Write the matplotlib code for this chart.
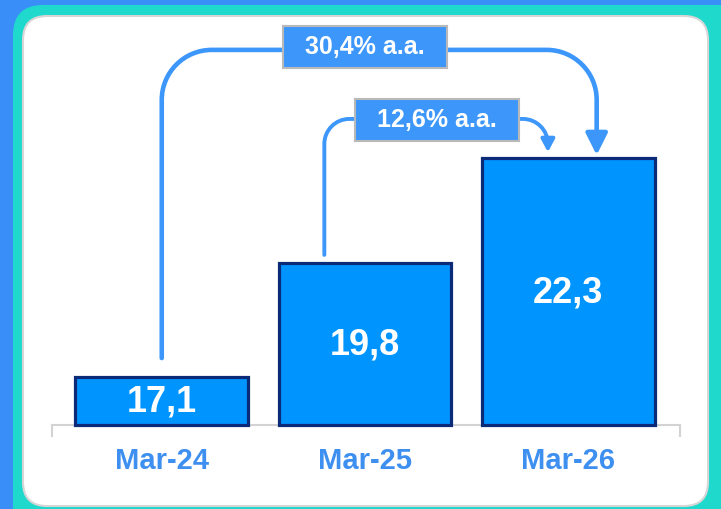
import numpy as np
import matplotlib
matplotlib.use("Agg")
import matplotlib.pyplot as plt
from matplotlib.patches import FancyBboxPatch, FancyArrowPatch, Rectangle
from matplotlib.path import Path
from matplotlib.transforms import IdentityTransform

# data
categories = ["Mar-24", "Mar-25", "Mar-26"]
values = [17.1, 19.8, 22.3]
value_labels = ["17,1", "19,8", "22,3"]
growth_labels = ["30,4% a.a.", "12,6% a.a."]

plt.rcParams['font.family'] = ['Liberation Sans', 'DejaVu Sans']

BAR = "#0094ff"
EDGE = "#0b2a78"
ARROW = "#3d97fb"
TICK = "#3d8ff0"

fig = plt.figure(figsize=(7.21, 5.09), dpi=100)
fig.patch.set_facecolor("#3a8ef7")

# background frame (pixel coordinates)
bg = fig.add_axes([0, 0, 1, 1], zorder=0)
bg.set_xlim(0, 721)
bg.set_ylim(509, 0)
bg.axis("off")
bg.add_patch(FancyBboxPatch((13, 5), 740, 540, boxstyle="round,pad=0,rounding_size=30",
                            fc="#1fd9cc", ec="none"))
bg.add_patch(FancyBboxPatch((23, 16), 685, 490, boxstyle="round,pad=0,rounding_size=24",
                            fc="white", ec="#d6d6d6", lw=1.5))

ybase = 15.96
ax = fig.add_axes([52 / 721, 84 / 509, 628 / 721, 405 / 509], zorder=1)
ax.patch.set_alpha(0)
x = np.arange(len(categories))
ax.set_xlim(-0.54, 2.55)
ax.set_ylim(ybase, 25.58)

ax.bar(x, np.array(values) - ybase, bottom=ybase, width=0.85, color=BAR,
       edgecolor=EDGE, linewidth=2.3, zorder=3, clip_on=False)

for xi, v, lab in zip(x, values, value_labels):
    ax.text(xi, (v + ybase) / 2 - 0.03, lab, ha="center", va="center", color="white",
            fontsize=26, fontweight="bold", zorder=4)

ax.set_xticks(x, categories)
ax.tick_params(axis="x", length=0, pad=16, labelsize=21, labelcolor=TICK)
for t in ax.get_xticklabels():
    t.set_fontweight("bold")
ax.set_yticks([])
for s in ["top", "left", "right"]:
    ax.spines[s].set_visible(False)
ax.spines["bottom"].set_color("#d3d3d3")
ax.spines["bottom"].set_linewidth(1.5)
for xe in ax.get_xlim():
    ax.plot([xe, xe], [ybase, ybase - 0.25], color="#d3d3d3", lw=1.5, clip_on=False)


def elbow(xa, ya, xb, yb, ytop, r, lw, hl, hw):
    T = ax.transData
    (pxa, pya), (pxb, pyb), (_, pyt) = T.transform([(xa, ya), (xb, yb), (xa, ytop)])
    k = 0.5523 * r
    verts = [(pxa, pya), (pxa, pyt - r),
             (pxa, pyt - r + k), (pxa + r - k, pyt), (pxa + r, pyt),
             (pxb - r, pyt),
             (pxb - r + k, pyt), (pxb, pyt - r + k), (pxb, pyt - r),
             (pxb, pyb)]
    codes = [Path.MOVETO, Path.LINETO, Path.CURVE4, Path.CURVE4, Path.CURVE4,
             Path.LINETO, Path.CURVE4, Path.CURVE4, Path.CURVE4, Path.LINETO]
    arr = FancyArrowPatch(path=Path(verts, codes),
                          arrowstyle=f"-|>,head_length={hl},head_width={hw}",
                          lw=lw, color=ARROW, transform=IdentityTransform(),
                          shrinkA=0, shrinkB=0, zorder=5, clip_on=False)
    ax.add_patch(arr)


def growth_box(xc, yc, text):
    ax.add_patch(Rectangle((xc - 0.405, yc - 0.5), 0.81, 1.0, fc=ARROW, ec="#b9b9b9",
                           lw=1.5, zorder=6, clip_on=False))
    ax.text(xc, yc, text, ha="center", va="center", color="white", fontsize=18,
            fontweight="bold", zorder=7)


# 30,4% arrow: Mar-24 -> Mar-26
elbow(x[0], values[0] + 0.45, x[2] + 0.14, values[2] + 0.07, 24.87, 50, 3.3, 13, 6.5)
growth_box(1.0, 24.93, growth_labels[0])

# 12,6% arrow: Mar-25 -> Mar-26
elbow(x[1] - 0.2, values[1] + 0.2, x[2] - 0.1, values[2] + 0.14, 23.23, 25, 2.8, 7.5, 4)
growth_box(1.355, 23.21, growth_labels[1])

fig.savefig("out.png", dpi=100)
